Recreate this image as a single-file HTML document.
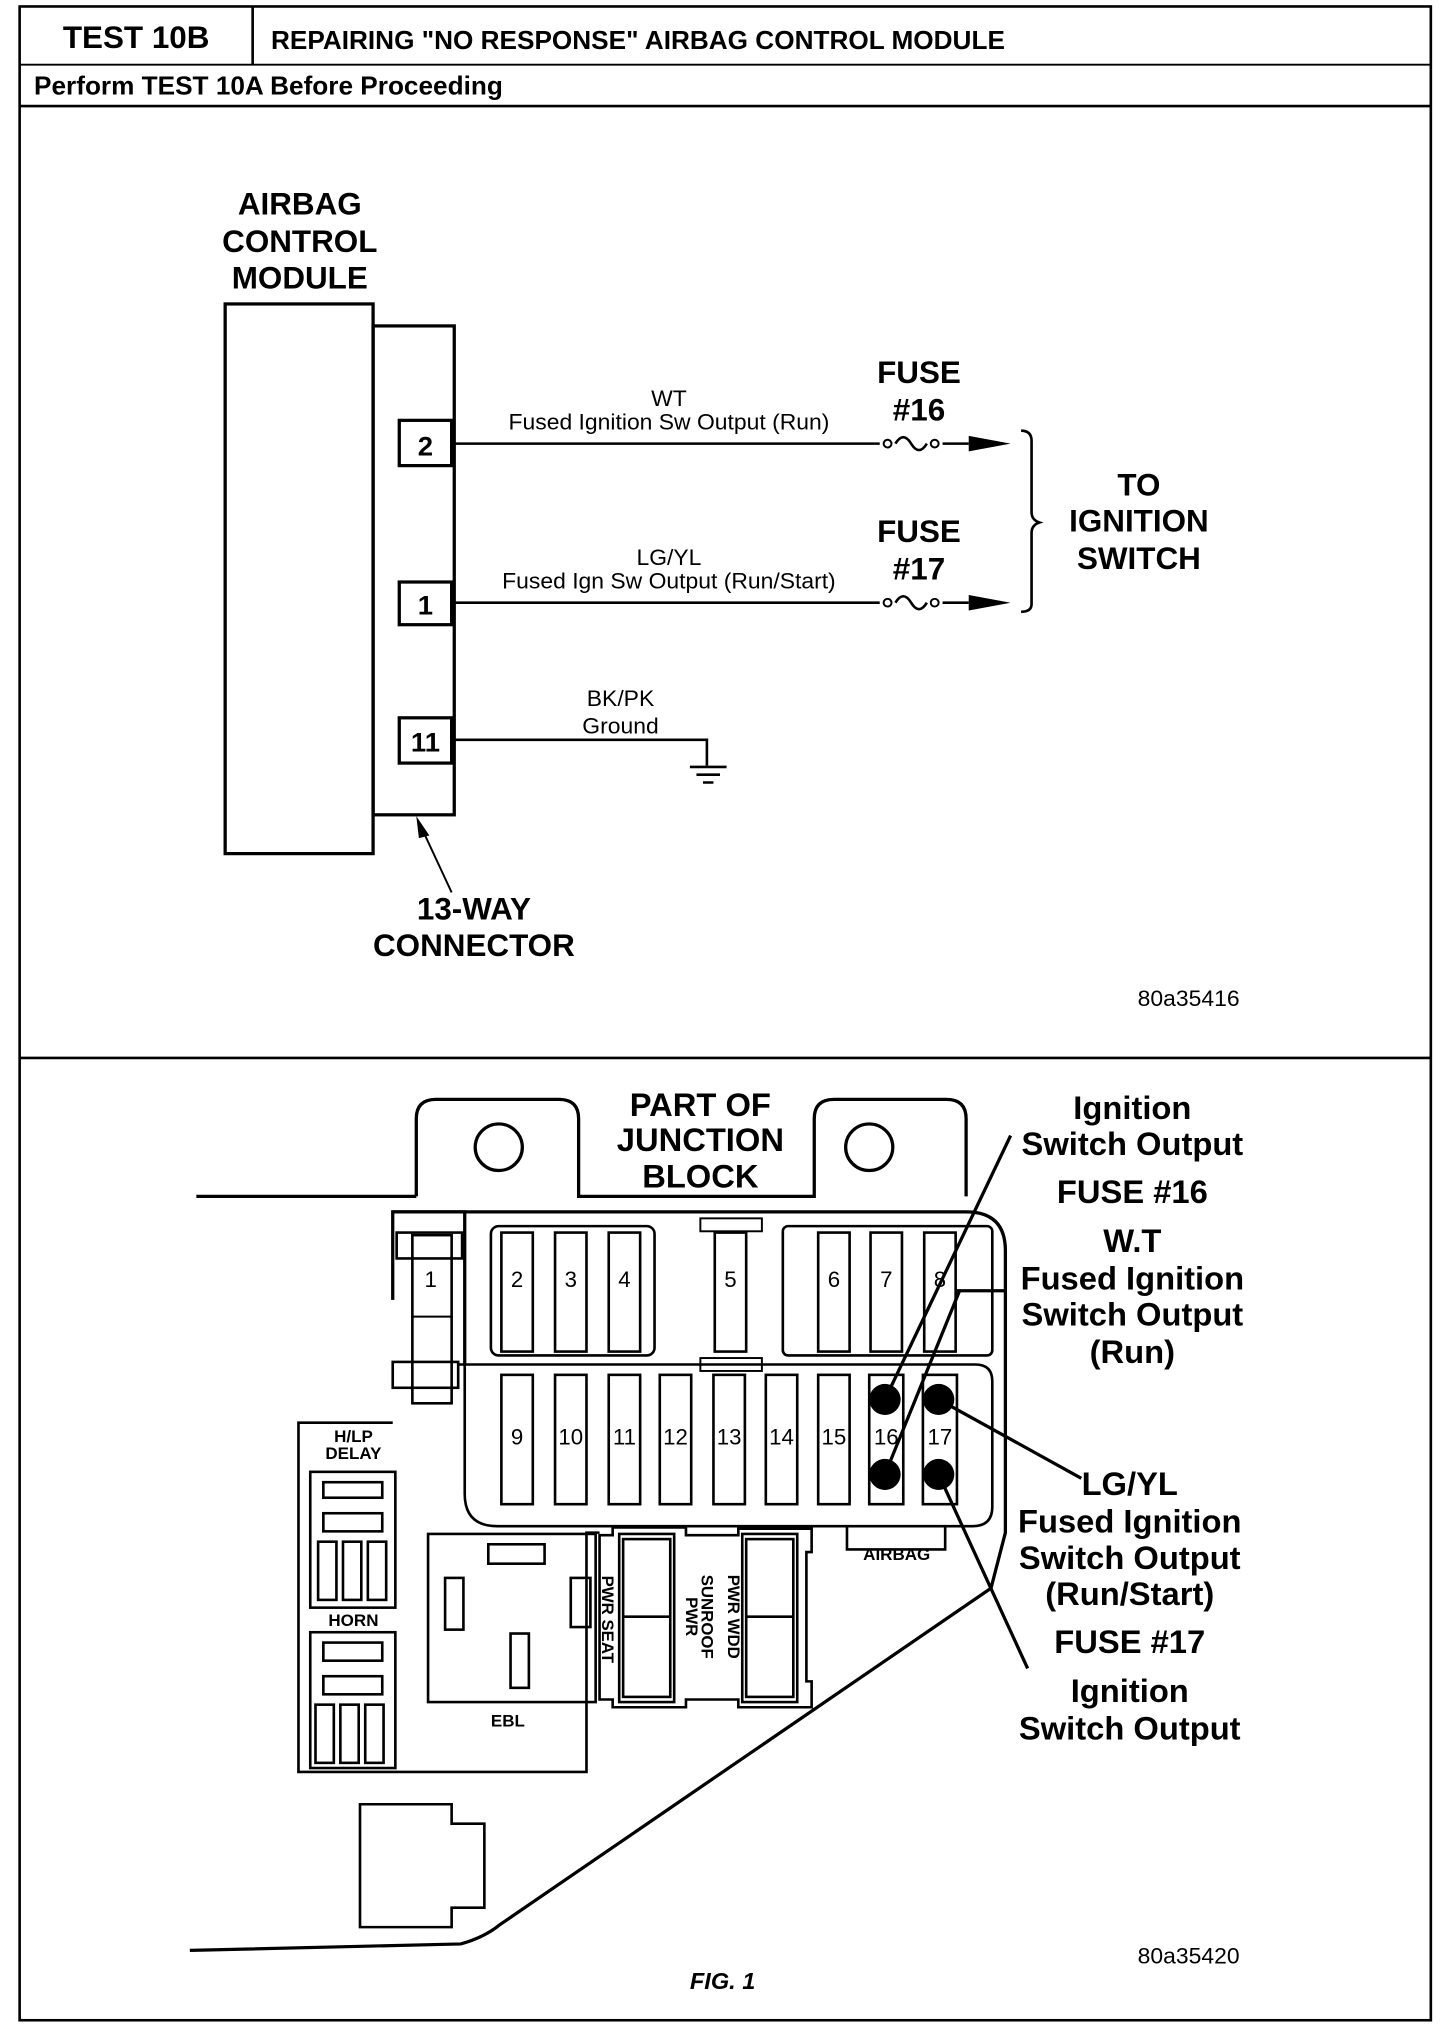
<!DOCTYPE html>
<html><head><meta charset="utf-8"><style>
html,body{margin:0;padding:0;background:#fff;}
svg{display:block;}
text{font-family:"Liberation Sans",Arial,sans-serif;fill:#000;}
.b{font-weight:bold;}
</style></head><body>
<svg width="1440" height="2028" viewBox="0 0 1100 1568" preserveAspectRatio="none" xmlns="http://www.w3.org/2000/svg">
<g fill="none" stroke="#000" stroke-width="2">
<rect x="15" y="5" width="1078" height="1557"/>
<line x1="15" y1="50" x2="1093" y2="50" stroke-width="1.5"/>
<line x1="193" y1="5" x2="193" y2="50"/>
<line x1="15" y1="82" x2="1093" y2="82"/>
<line x1="15" y1="818" x2="1093" y2="818"/>
</g>
<text x="104" y="37" class="b" font-size="24" text-anchor="middle">TEST 10B</text>
<text x="207" y="38" class="b" font-size="20">REPAIRING "NO RESPONSE" AIRBAG CONTROL MODULE</text>
<text x="26" y="73" class="b" font-size="20">Perform TEST 10A Before Proceeding</text>

<g fill="none" stroke="#000" stroke-width="2.5">
<rect x="172" y="235" width="113" height="425"/>
<rect x="285" y="252" width="62" height="378"/>
<rect x="305" y="325" width="40" height="35"/>
<rect x="305" y="450" width="40" height="33"/>
<rect x="305" y="555" width="40" height="35"/>
<line x1="347" y1="343" x2="668" y2="343" stroke-width="2"/>
<line x1="347" y1="466" x2="668" y2="466" stroke-width="2"/>
<path d="M668 343 h4 M684 343 q6 -10 12 0 q6 10 12 0 M720 343 h20" stroke-width="2"/>
<path d="M668 466 h4 M684 466 q6 -10 12 0 q6 10 12 0 M720 466 h20" stroke-width="2"/>
<circle cx="678" cy="343" r="3" stroke-width="1.5"/><circle cx="714" cy="343" r="3" stroke-width="1.5"/>
<circle cx="678" cy="466" r="3" stroke-width="1.5"/><circle cx="714" cy="466" r="3" stroke-width="1.5"/>
<path d="M780 333 q8 0 8 8 v55 q0 6 6 8 q-6 2 -6 8 v55 q0 6 -8 6" stroke-width="2"/>
<path d="M347 572 H540 V592" stroke-width="2"/>
<path d="M527 593 h28 M532 599 h18 M537 605 h8" stroke-width="2"/>
<line x1="345" y1="690" x2="322" y2="640" stroke-width="1.5"/>
</g>
<polygon points="740,337 772,343 740,349" fill="#000"/>
<polygon points="740,460 772,466 740,472" fill="#000"/>
<polygon points="318,631 328,646 320,648" fill="#000"/>
<text x="325" y="352" class="b" font-size="21" text-anchor="middle">2</text>
<text x="325" y="475" class="b" font-size="21" text-anchor="middle">1</text>
<text x="325" y="581" class="b" font-size="21" text-anchor="middle">11</text>
<g class="b" font-size="24" text-anchor="middle">
<text x="229" y="166">AIRBAG</text><text x="229" y="195">CONTROL</text><text x="229" y="223">MODULE</text>
<text x="702" y="296">FUSE</text><text x="702" y="325">#16</text>
<text x="702" y="419">FUSE</text><text x="702" y="448">#17</text>
<text x="870" y="383">TO</text><text x="870" y="411">IGNITION</text><text x="870" y="440">SWITCH</text>
<text x="362" y="711">13-WAY</text><text x="362" y="739">CONNECTOR</text>
</g>
<g font-size="17.5" text-anchor="middle">
<text x="511" y="314">WT</text><text x="511" y="332">Fused Ignition Sw Output (Run)</text>
<text x="511" y="437">LG/YL</text><text x="511" y="455">Fused Ign Sw Output (Run/Start)</text>
<text x="474" y="546">BK/PK</text><text x="474" y="567">Ground</text>
<text x="908" y="778">80a35416</text>
<text x="908" y="1518">80a35420</text>
</g>

<g fill="none" stroke="#000" stroke-width="2.5">
<line x1="150" y1="925" x2="318" y2="925"/>
<path d="M318 925 V865 q0 -15 15 -15 H427 q15 0 15 15 V925 H622 V865 q0 -15 15 -15 H723 q15 0 15 15 V925"/>
<circle cx="381" cy="887" r="18"/><circle cx="664" cy="887" r="18"/>
<path d="M300 1005 V937 H738 q30 0 30 30 V1185 L757 1228 L382 1488 q-12 10 -30 15 L145 1508"/>
<path d="M300 937 H355 V1055"/>
<rect x="303" y="953" width="50" height="20" stroke-width="2"/>
<rect x="315" y="955" width="30" height="130" stroke-width="2"/>
<line x1="315" y1="1018" x2="345" y2="1018" stroke-width="1.5"/>
<rect x="300" y="1053" width="50" height="20" stroke-width="2"/>
<rect x="375" y="948" width="125" height="100" rx="6" stroke-width="2"/>
<rect x="598" y="948" width="160" height="100" rx="4" stroke-width="2"/>
<rect x="535" y="942" width="47" height="10" stroke-width="1.5"/>
<rect x="535" y="1050" width="47" height="10" stroke-width="1.5"/>
<path d="M350 1055 H745 q13 0 13 13 V1165 q0 15 -15 15 H380 q-25 0 -25 -25 V1055" stroke-width="2"/>
</g>
<g fill="none" stroke="#000" stroke-width="2">
<rect x="383" y="953" width="24" height="92"/><rect x="424" y="953" width="24" height="92"/><rect x="465" y="953" width="24" height="92"/>
<rect x="546" y="953" width="24" height="92"/>
<rect x="625" y="953" width="24" height="92"/><rect x="665" y="953" width="24" height="92"/><rect x="706" y="953" width="24" height="92"/>
<rect x="383" y="1063" width="24" height="100"/><rect x="424" y="1063" width="24" height="100"/><rect x="465" y="1063" width="24" height="100"/>
<rect x="504" y="1063" width="24" height="100"/><rect x="545" y="1063" width="24" height="100"/><rect x="585" y="1063" width="24" height="100"/>
<rect x="625" y="1063" width="24" height="100"/><rect x="664" y="1063" width="26" height="100"/><rect x="705" y="1063" width="26" height="100"/>
</g>
<g font-size="17" text-anchor="middle">
<text x="329" y="995">1</text>
<text x="395" y="995">2</text><text x="436" y="995">3</text><text x="477" y="995">4</text>
<text x="558" y="995">5</text><text x="637" y="995">6</text><text x="677" y="995">7</text><text x="718" y="995">8</text>
<text x="395" y="1117">9</text><text x="436" y="1117">10</text><text x="477" y="1117">11</text><text x="516" y="1117">12</text>
<text x="557" y="1117">13</text><text x="597" y="1117">14</text><text x="637" y="1117">15</text><text x="677" y="1117">16</text><text x="718" y="1117">17</text>
</g>
<g fill="#000">
<circle cx="676" cy="1082" r="12"/><circle cx="717" cy="1082" r="12"/>
<circle cx="676" cy="1140" r="12"/><circle cx="717" cy="1140" r="12"/>
</g>
<g stroke="#000" stroke-width="2.5" fill="none">
<line x1="676" y1="1082" x2="772" y2="878"/>
<line x1="676" y1="1140" x2="733" y2="998"/>
<line x1="730" y1="998" x2="768" y2="998"/>
<line x1="717" y1="1082" x2="826" y2="1143"/>
<line x1="717" y1="1140" x2="785" y2="1290"/>
</g>
<g fill="none" stroke="#000" stroke-width="2">
<path d="M300 1100 H228 V1370 H448 V1185 H458"/>
<rect x="237" y="1138" width="65" height="105"/>
<rect x="247" y="1146" width="45" height="12"/><rect x="247" y="1170" width="45" height="14"/>
<rect x="243" y="1192" width="14" height="45"/><rect x="262" y="1192" width="14" height="45"/><rect x="281" y="1192" width="14" height="45"/>
<rect x="237" y="1262" width="65" height="105"/>
<rect x="247" y="1270" width="45" height="14"/><rect x="247" y="1296" width="45" height="14"/>
<rect x="241" y="1318" width="14" height="45"/><rect x="260" y="1318" width="14" height="45"/><rect x="279" y="1318" width="14" height="45"/>
<rect x="327" y="1186" width="128" height="130"/>
<rect x="373" y="1194" width="43" height="15"/><rect x="340" y="1220" width="14" height="40"/>
<rect x="390" y="1263" width="14" height="42"/><rect x="436" y="1220" width="15" height="38"/>
<path d="M458 1187 h10 v-6 h56 v6 h40 v-5 h56 v18 h-4 v100 h4 v20 h-56 v-6 h-40 v6 h-56 v-6 h-10 z"/>
<rect x="473" y="1186" width="42" height="130"/><rect x="476" y="1190" width="36" height="122"/>
<line x1="476" y1="1250" x2="512" y2="1250"/>
<rect x="567" y="1186" width="42" height="130"/><rect x="570" y="1190" width="36" height="122"/>
<line x1="570" y1="1250" x2="606" y2="1250"/>
<path d="M647 1180 V1198 H722 V1180"/>
<path d="M275 1395 H345 V1410 H370 V1475 H345 V1490 H275 Z"/>
</g>
<g class="b" font-size="13" text-anchor="middle">
<text x="270" y="1115">H/LP</text><text x="270" y="1128">DELAY</text>
<text x="270" y="1257">HORN</text>
<text x="388" y="1335">EBL</text>
<text x="685" y="1206">AIRBAG</text>
<text transform="translate(460,1252) rotate(90)">PWR SEAT</text>
<text transform="translate(524,1250) rotate(90)">PWR</text>
<text transform="translate(536,1250) rotate(90)">SUNROOF</text>
<text transform="translate(556,1250) rotate(90)">PWR WDD</text>
</g>
<g class="b" font-size="25" text-anchor="middle">
<text x="535" y="863">PART OF</text><text x="535" y="890">JUNCTION</text><text x="535" y="918">BLOCK</text>
<text x="865" y="865">Ignition</text><text x="865" y="893">Switch Output</text>
<text x="865" y="930">FUSE #16</text>
<text x="865" y="968">W.T</text><text x="865" y="997">Fused Ignition</text><text x="865" y="1025">Switch Output</text><text x="865" y="1054">(Run)</text>
<text x="863" y="1156">LG/YL</text><text x="863" y="1185">Fused Ignition</text><text x="863" y="1213">Switch Output</text><text x="863" y="1241">(Run/Start)</text>
<text x="863" y="1278">FUSE #17</text>
<text x="863" y="1316">Ignition</text><text x="863" y="1345">Switch Output</text>
</g>
<text x="552" y="1538" class="b" font-size="18" font-style="italic" text-anchor="middle">FIG. 1</text>
</svg>
</body></html>
